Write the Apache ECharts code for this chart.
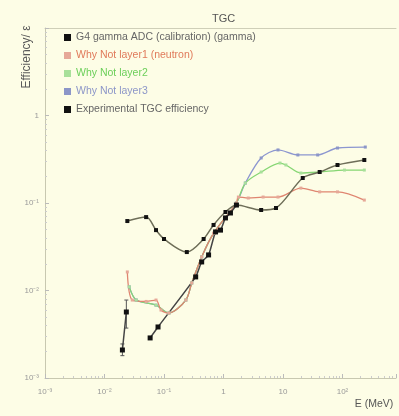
<!DOCTYPE html>
<html>
<head>
<meta charset="utf-8">
<script src="https://cdn.jsdelivr.net/npm/echarts@6/dist/echarts.min.js"></script>
<style>
  html, body { margin: 0; padding: 0; background: #fdfde6; }
  #chart { width: 399px; height: 416px; }
</style>
</head>
<body>
<div id="chart"></div>
<script>
// Energy (MeV) / efficiency pairs for each curve
const g4GammaE   = [0.0242, 0.0501, 0.0735, 0.1, 0.242, 0.464, 0.681, 1.08, 1.65, 4.30, 7.64, 21.5, 41.4, 82.5, 233];
const g4GammaEff = [0.0622, 0.069, 0.049, 0.0388, 0.0275, 0.0388, 0.0561, 0.0789, 0.0948, 0.0832, 0.0877, 0.193, 0.226, 0.272, 0.31];

const layer1E   = [0.0242, 0.0293, 0.0501, 0.0735, 0.0891, 0.121, 0.233, 0.293, 0.43, 0.68, 1.65, 1.78, 2.61, 4.64, 8.25, 20.0, 41.4, 82.5, 233];
const layer1Eff = [0.0163, 0.00778, 0.0075, 0.00778, 0.00598, 0.00553, 0.00778, 0.0122, 0.0242, 0.045, 0.1, 0.117, 0.114, 0.117, 0.117, 0.148, 0.134, 0.134, 0.108];

const layer2E   = [0.0261, 0.0341, 0.0735, 0.121, 0.233, 0.293, 0.43, 0.68, 1.65, 2.33, 4.30, 8.91, 11.2, 20.0, 41.4, 108, 233];
const layer2Eff = [0.011, 0.00778, 0.0068, 0.00553, 0.00778, 0.0122, 0.0242, 0.045, 0.1, 0.169, 0.226, 0.286, 0.272, 0.22, 0.226, 0.238, 0.238];

const layer3E   = [0.0261, 0.0341, 0.0735, 0.121, 0.233, 0.293, 0.43, 0.68, 1.65, 2.33, 4.30, 8.25, 17.8, 38.3, 82.5, 242];
const layer3Eff = [0.011, 0.0078, 0.0068, 0.00553, 0.00778, 0.0122, 0.0242, 0.045, 0.1, 0.169, 0.327, 0.404, 0.354, 0.354, 0.425, 0.436];

// Measured efficiency; the first two points stand apart from the connected set
const expE   = [0.020, 0.0233, null, 0.0585, 0.0794, 0.341, 0.43, 0.562, 0.736, 0.891, 1.08, 1.31, 1.65];
const expEff = [0.00209, 0.00568, null, 0.00287, 0.00383, 0.0143, 0.0212, 0.0255, 0.0467, 0.049, 0.0675, 0.0769, 0.0948];

// Error bars on measured points
const errE  = [0.020, 0.0233];
const errLo = [0.00180, 0.00372];
const errHi = [0.00245, 0.00778];

const xTickLabels = { '-3': '10⁻³', '-2': '10⁻²', '-1': '10⁻¹', '0': '1', '1': '10', '2': '10²' };
const yTickLabels = { '-3': '10⁻³', '-2': '10⁻²', '-1': '10⁻¹', '0': '1', '1': '' };

const names = [
  'G4 gamma ADC (calibration) (gamma)',
  'Why Not layer1 (neutron)',
  'Why Not layer2',
  'Why Not layer3',
  'Experimental TGC efficiency'
];

function pairs(xs, ys) {
  return xs.map((x, i) => (x === null ? '-' : [x, ys[i]]));
}

const FONT = 'Liberation Sans';
const X_MAX = Math.pow(10, 2.9);
const chart = echarts.init(document.getElementById('chart'), null, { renderer: 'canvas' });

chart.setOption({
  backgroundColor: '#fdfde6',
  animation: false,
  title: {
    text: 'TGC',
    left: 207, top: 8,
    textStyle: { fontFamily: FONT, fontSize: 11, fontWeight: 'normal', color: '#555' }
  },
  legend: {
    orient: 'vertical',
    left: 59, top: 27,
    itemWidth: 7, itemHeight: 7, itemGap: 7,
    icon: 'rect',
    textStyle: { fontFamily: FONT, fontSize: 10.5 },
    data: [
      { name: names[0], textStyle: { color: '#666' } },
      { name: names[1], textStyle: { color: '#e07a5a' } },
      { name: names[2], textStyle: { color: '#6ccf5a' } },
      { name: names[3], textStyle: { color: '#8c96c8' } },
      { name: names[4], textStyle: { color: '#666' } }
    ]
  },
  grid: { left: 45, right: 0, top: 28, bottom: 38 },
  xAxis: [
    {
      type: 'log', logBase: 10, min: 0.001, max: X_MAX,
      axisLine: { lineStyle: { color: '#c8c8b0' } },
      axisTick: { inside: true, length: 4, lineStyle: { color: '#bbb' } },
      minorTick: { show: true, splitNumber: 9, length: 2, lineStyle: { color: '#ccc' } },
      splitLine: { show: false },
      axisLabel: {
        fontFamily: FONT, fontSize: 8, color: '#999', margin: 10,
        formatter: v => xTickLabels[String(Math.round(Math.log10(v)))] || ''
      }
    },
    {
      // frame line along the top of the plot
      type: 'log', logBase: 10, min: 0.001, max: X_MAX, position: 'top',
      axisLine: { show: true, lineStyle: { color: '#cfcfb8' } },
      axisTick: { show: false }, axisLabel: { show: false }, splitLine: { show: false }
    }
  ],
  yAxis: {
    type: 'log', logBase: 10, min: 0.001, max: 10,
    axisLine: { show: true, lineStyle: { color: '#c8c8b0' } },
    axisTick: { show: true, inside: true, length: 4, lineStyle: { color: '#bbb' } },
    minorTick: { show: true, splitNumber: 9, length: 2, lineStyle: { color: '#ccc' } },
    splitLine: { show: false },
    axisLabel: {
      fontFamily: FONT, fontSize: 8, color: '#999', margin: 6,
      formatter: v => yTickLabels[String(Math.round(Math.log10(v)))] || ''
    }
  },
  graphic: [
    {
      type: 'text', x: 27, y: 57, rotation: Math.PI / 2,
      style: { text: 'Efficiency/ ε', fontFamily: FONT, fontSize: 12, fill: '#5a5a5a', align: 'center', verticalAlign: 'middle' }
    },
    {
      type: 'text', x: 374, y: 404,
      style: { text: 'E (MeV)', fontFamily: FONT, fontSize: 10.5, fill: '#555', align: 'center', verticalAlign: 'middle' }
    }
  ],
  series: [
    {
      name: names[3], type: 'line', smooth: 0.3,
      data: pairs(layer3E, layer3Eff),
      symbol: 'rect', symbolSize: 3,
      lineStyle: { color: '#8c96d0', width: 1.3 },
      itemStyle: { color: '#8c96c8' }
    },
    {
      name: names[2], type: 'line', smooth: 0.3,
      data: pairs(layer2E, layer2Eff),
      symbol: 'rect', symbolSize: 3,
      lineStyle: { color: '#86d673', width: 1.3 },
      itemStyle: { color: '#a8e09a' }
    },
    {
      name: names[1], type: 'line', smooth: 0.3,
      data: pairs(layer1E, layer1Eff),
      symbol: 'rect', symbolSize: 3,
      lineStyle: { color: '#df8570', width: 1.3 },
      itemStyle: { color: '#e6a898' }
    },
    {
      name: names[0], type: 'line', smooth: 0.3,
      data: pairs(g4GammaE, g4GammaEff),
      symbol: 'rect', symbolSize: 4,
      lineStyle: { color: '#6e6e58', width: 1.5 },
      itemStyle: { color: '#111' }
    },
    {
      name: names[4], type: 'line', smooth: 0.2,
      data: pairs(expE, expEff),
      symbol: 'rect', symbolSize: 5,
      connectNulls: false,
      lineStyle: { color: '#444', width: 1.5 },
      itemStyle: { color: '#111' }
    },
    {
      name: 'errors', type: 'custom',
      data: errE.map((x, i) => [x, errLo[i], errHi[i]]),
      renderItem: (params, api) => {
        const lo = api.coord([api.value(0), api.value(1)]);
        const hi = api.coord([api.value(0), api.value(2)]);
        return {
          type: 'group',
          children: [
            { type: 'line', shape: { x1: lo[0], y1: lo[1], x2: hi[0], y2: hi[1] }, style: { stroke: '#555', lineWidth: 1 } },
            { type: 'line', shape: { x1: lo[0] - 2, y1: lo[1], x2: lo[0] + 2, y2: lo[1] }, style: { stroke: '#555', lineWidth: 1 } },
            { type: 'line', shape: { x1: hi[0] - 2, y1: hi[1], x2: hi[0] + 2, y2: hi[1] }, style: { stroke: '#555', lineWidth: 1 } }
          ]
        };
      },
      z: 1
    }
  ]
});
</script>
</body>
</html>
